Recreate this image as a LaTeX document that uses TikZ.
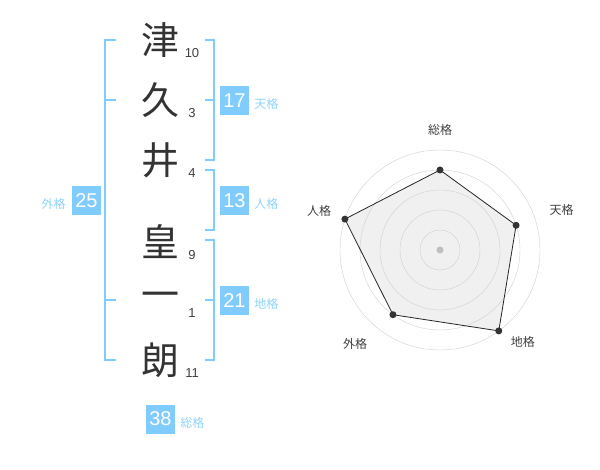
\documentclass[tikz,border=0pt]{standalone}
\usepackage{fontspec}
\setmainfont{Liberation Sans}
\newfontfamily\jp{Noto Sans CJK JP}
\usetikzlibrary{positioning}
\definecolor{kakublue}{HTML}{80CCFF}
\definecolor{kakutext}{HTML}{8ED3FF}
\definecolor{ringgray}{HTML}{CFCFCF}
\definecolor{radarfill}{HTML}{F0F0F0}
\tikzset{
	kanji/.style={font=\jp\fontsize{38}{38}\selectfont, text=black!80},
	strokes/.style={font=\fontsize{13}{13}\selectfont, text=black!75},
	kakubox/.style={fill=kakublue, text=white, minimum size=29pt, inner sep=0pt, font=\fontsize{20}{20}\selectfont},
	kakuname/.style={font=\jp\fontsize{12}{12}\selectfont, text=kakutext, inner sep=0pt},
	bracket/.style={draw=kakublue, line width=2pt},
	axisname/.style={font=\jp\fontsize{12}{12}\selectfont, text=black!75}
}
\begin{document}
\begin{tikzpicture}[x=1pt,y=-1pt]
\useasboundingbox (0,0) rectangle (600,470);

\foreach \c/\n/\y [count=\k] in {津/10/40,久/3/100,井/4/160,皇/9/242,一/1/300,朗/11/360}
	{\node[kanji] (c\k) at (160,\y) {\c};
	\node[strokes] (s\k) at (192,\y+13) {\n};}

\draw[bracket] (116,40) -- (105,40) -- (105,360) -- (116,360);
\foreach \y in {100,300}
	\draw[bracket] (105,\y) -- (116,\y);

\draw[bracket] (205,40) -- (214,40) -- (214,160) -- (205,160);
\draw[bracket] (205,170) -- (214,170) -- (214,230) -- (205,230);
\draw[bracket] (205,240) -- (214,240) -- (214,360) -- (205,360);
\foreach \y in {100,300}
	\draw[bracket] (214,\y) -- (205,\y);

\node[kakubox] (ten) at (234.5,100.5) {17};
\node[kakuname, right=5pt of ten, yshift=-3.5pt] (tenname) {天格};
\node[kakubox] (jin) at (234.5,200.5) {13};
\node[kakuname, right=5pt of jin, yshift=-3.5pt] (jinname) {人格};
\node[kakubox] (chi) at (234.5,300.5) {21};
\node[kakuname, right=5pt of chi, yshift=-3.5pt] (chiname) {地格};
\node[kakubox] (gai) at (86.5,200.5) {25};
\node[kakuname, left=6pt of gai, yshift=-3.5pt] (gainame) {外格};
\node[kakubox] (sou) at (160.5,419) {38};
\node[kakuname, right=5pt of sou, yshift=-3.5pt] (souname) {総格};

\begin{scope}[shift={(440,250)},yscale=-1]
\foreach \a/\r [count=\k] in {90/80,18/80,-54/100,-126/80,162/100}
	\coordinate (v\k) at (\a:\r);
\fill[radarfill] (v1) -- (v2) -- (v3) -- (v4) -- (v5) -- cycle;
\foreach \r in {20,40,...,100}
	\draw[ringgray] (0,0) circle (\r pt);
\fill[black!25] (0,0) circle (3.5pt);
\draw[black!85, line width=.8pt] (v1) -- (v2) -- (v3) -- (v4) -- (v5) -- cycle;
\foreach \k in {1,...,5}
	\fill[black!80] (v\k) circle (3.5pt);

\node[axisname] (a1) at (90:120) {総格};
\node[axisname] (a2) at (18:128) {天格};
\node[axisname] (a3) at (-48:124) {地格};
\node[axisname] (a4) at (-132:127) {外格};
\node[axisname] (a5) at (162:127) {人格};
\end{scope}
\end{tikzpicture}
\end{document}
